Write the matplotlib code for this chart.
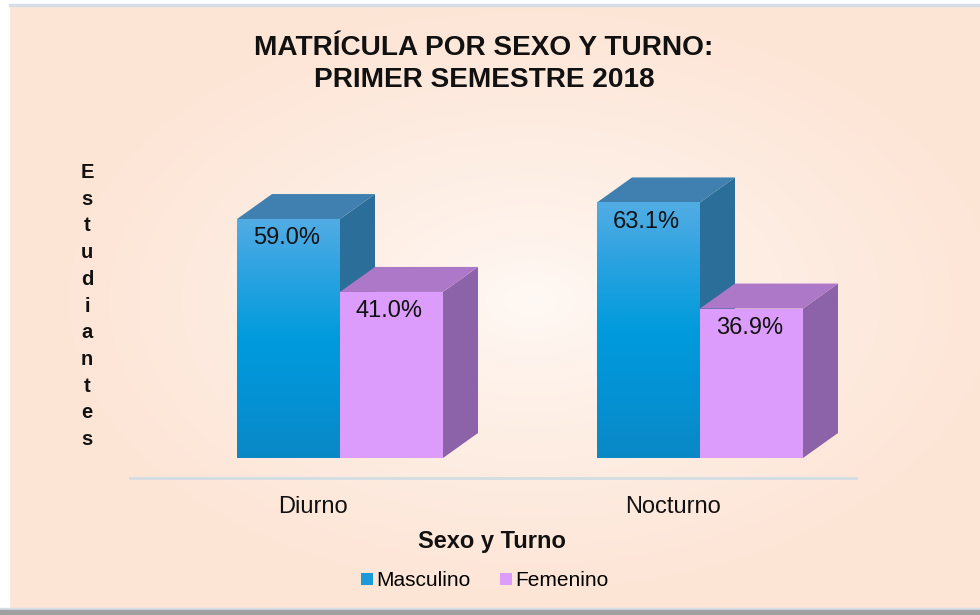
import matplotlib
matplotlib.use("Agg")
import matplotlib.pyplot as plt
from matplotlib.patches import Polygon, Rectangle
import numpy as np

# data
turnos = ["Diurno", "Nocturno"]
masculino = [59.0, 63.1]
femenino = [41.0, 36.9]
series_names = ["Masculino", "Femenino"]
y_letters = list("Estudiantes")

plt.rcParams['font.family'] = ['Liberation Sans', 'DejaVu Sans']

W, H = 980, 615
fig = plt.figure(figsize=(W / 100, H / 100), dpi=100)


def fx(px):
    return px / W


def fy(py):
    return 1 - py / H


# background with soft radial glow
bg = fig.add_axes([0, 0, 1, 1], zorder=-10)
gx, gy = np.meshgrid(np.arange(W), np.arange(H))
r = np.sqrt(((gx - 530) / 480.0) ** 2 + ((gy - 300) / 300.0) ** 2)
t = np.clip(r, 0, 1) ** 0.8
edge = np.array([253, 229, 214]) / 255
centre = np.array([255, 249, 245]) / 255
img = centre[None, None, :] * (1 - t[..., None]) + edge[None, None, :] * t[..., None]
bg.imshow(img, extent=[0, W, H, 0], aspect='auto')
bg.set_xlim(0, W)
bg.set_ylim(H, 0)
bg.axis('off')
# frame bits
bg.add_patch(Rectangle((0, 0), 9, H, color='white'))
bg.add_patch(Rectangle((0, 0), W, 4, color='white'))
bg.add_patch(Rectangle((9, 4), W, 1.5, color='#d6dde6'))
bg.add_patch(Rectangle((0, 608), W, 2, color='#d6dde6'))
bg.add_patch(Rectangle((0, 610), W, 5, color='#a0a0a0'))

# plot axes, placed so 0% sits at y=458 px, 4.05 px per %
left_px, right_px, top_px, bot_px = 130, 856, 120, 478
ax = fig.add_axes([fx(left_px), fy(bot_px), fx(right_px - left_px), (bot_px - top_px) / H])
ppu_y = 4.05
ppu_x = 360.0
xlim = ((left_px - 340) / ppu_x, (right_px - 340) / ppu_x)
ylim = (-(bot_px - 458) / ppu_y, (458 - top_px) / ppu_y)
ax.patch.set_alpha(0)

w = 103 / ppu_x
dx = 35 / ppu_x
dy = 25 / ppu_y
x = np.arange(len(turnos))

# top -> bottom shading of the blue front faces
blue_grad = np.array([[82, 172, 228], [40, 162, 224], [0, 155, 220], [4, 146, 212], [10, 136, 198]]) / 255


def draw_3d(bars, side_c, top_c):
    for b in bars:
        L, h, bw = b.get_x(), b.get_height(), b.get_width()
        side = Polygon([(L + bw, 0), (L + bw + dx, dy), (L + bw + dx, h + dy), (L + bw, h)],
                       closed=True, facecolor=side_c, edgecolor='none', zorder=b.get_zorder() - 0.5)
        top = Polygon([(L, h), (L + dx, h + dy), (L + bw + dx, h + dy), (L + bw, h)],
                      closed=True, facecolor=top_c, edgecolor='none', zorder=b.get_zorder() - 0.5)
        ax.add_patch(side)
        ax.add_patch(top)


bars_m = ax.bar(x - w / 2, masculino, width=w, color='#1a9ad9', zorder=3, label=series_names[0])
draw_3d(bars_m, '#2b6e99', '#3f80b0')
for b in bars_m:
    L, h, bw = b.get_x(), b.get_height(), b.get_width()
    ys = np.linspace(0, 1, 200)
    idx = np.arange(len(blue_grad))
    cols = np.stack([np.interp(ys * (len(blue_grad) - 1), idx, blue_grad[:, k]) for k in range(3)], axis=1)
    im = ax.imshow(cols[:, None, :], extent=[L, L + bw, 0, h], aspect='auto', zorder=3.2, origin='upper')
    im.set_clip_path(b)

bars_f = ax.bar(x + w / 2, femenino, width=w, color='#dc9cfb', zorder=5, label=series_names[1])
draw_3d(bars_f, '#8c62a8', '#ae78c8')

ax.set_xlim(*xlim)
ax.set_ylim(*ylim)

# value labels
for bars, vals in [(bars_m, masculino), (bars_f, femenino)]:
    for b, v in zip(bars, vals):
        ax.annotate(f"{v:.1f}%", xy=(b.get_x(), b.get_height()), xytext=(11.5, -14),
                    textcoords='offset points', ha='left', va='center', fontsize=17,
                    color='#111111', zorder=10)

# axes styling
for s in ['top', 'right', 'left']:
    ax.spines[s].set_visible(False)
ax.spines['bottom'].set_color('#d3dde4')
ax.spines['bottom'].set_linewidth(2)
ax.set_yticks([])
ax.set_xticks(x - 27 / ppu_x)
ax.set_xticklabels(turnos)
ax.tick_params(axis='x', length=0, pad=13, labelsize=17, labelcolor='#111111')

# titles
fig.text(fx(484), fy(55), "MATRÍCULA POR SEXO Y TURNO:", ha='center', va='baseline',
         fontsize=20.2, fontweight='bold', color='#111111')
fig.text(fx(484), fy(87), "PRIMER SEMESTRE 2018", ha='center', va='baseline',
         fontsize=20.2, fontweight='bold', color='#111111')
fig.text(fx(492), fy(548), "Sexo y Turno", ha='center', va='baseline',
         fontsize=17, fontweight='bold', color='#111111')
for i, ch in enumerate(y_letters):
    fig.text(fx(87), fy(178 + i * 26.7), ch, ha='center', va='baseline',
             fontsize=14.5, fontweight='bold', color='#111111')

leg = fig.legend(handles=[bars_m, bars_f], labels=series_names, loc='center',
                 bbox_to_anchor=(fx(485), fy(581)), ncol=2, frameon=False, fontsize=15,
                 handlelength=0.55, handleheight=0.55, handletextpad=0.2, columnspacing=1.4)

fig.savefig("out.png", dpi=100)
